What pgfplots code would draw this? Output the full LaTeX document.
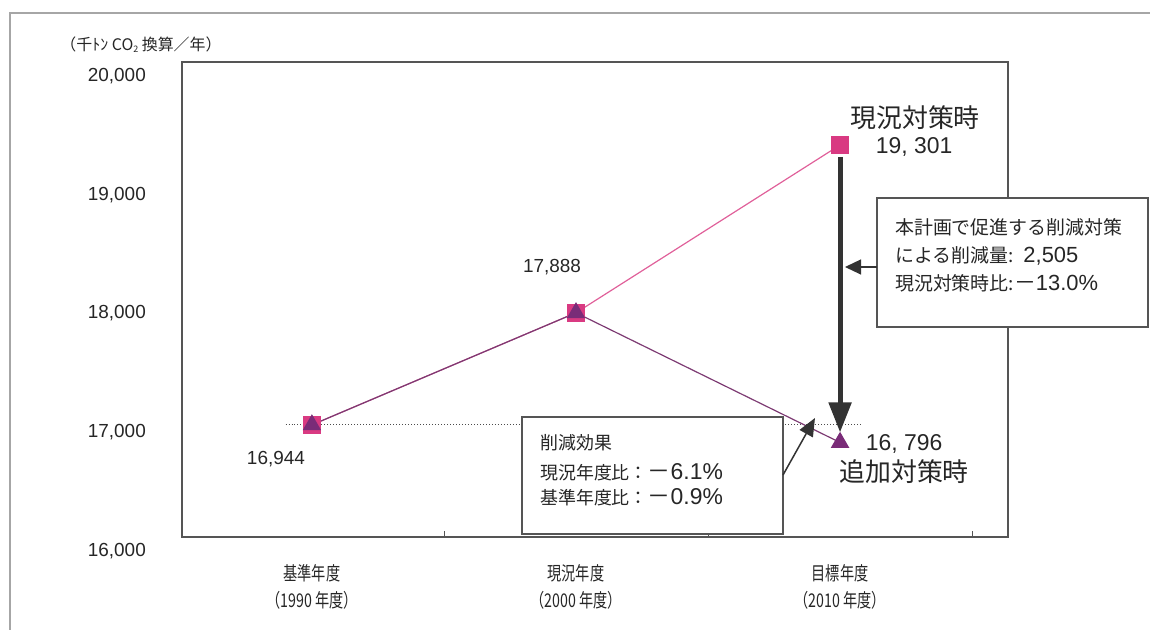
\documentclass[border=0pt]{standalone}
\usepackage{pgfplots}
\pgfplotsset{compat=1.18}
\usetikzlibrary{arrows.meta}
\usepackage{fontspec}
\setmainfont{Liberation Sans}
\newfontfamily\jp{Noto Sans CJK JP}
\newfontfamily\jpc[FakeStretch=0.75]{Noto Sans CJK JP}
\definecolor{pinkline}{HTML}{E0609A}
\definecolor{pinkm}{HTML}{D93A82}
\definecolor{purpline}{HTML}{7D3B73}
\definecolor{purpm}{HTML}{7A2C78}
\definecolor{axgray}{HTML}{555555}
\definecolor{arrowgray}{HTML}{333333}
\newcommand{\fs}[1]{\fontsize{#1}{#1}\selectfont}
\begin{document}
\begin{tikzpicture}[x=1bp,y=1bp]
\path[use as bounding box] (0,0) rectangle (1150,630);
% outer frame
\draw[gray!70, line width=1.5bp] (10,0) -- (10,617) -- (1150,617);
\begin{axis}[
  at={(182bp,93bp)}, anchor=south west,
  width=826bp, height=475bp, scale only axis,
  xmin=-0.492, xmax=2.636, ymin=16000, ymax=20000,
  scaled y ticks=false,
  axis line style={axgray, line width=1.3bp},
  xtick={0,1,2},
  xticklabels={基準年度\\（1990 年度）, 現況年度\\（2000 年度）, 目標年度\\（2010 年度）},
  xticklabel style={font=\jpc\fontsize{19}{27}\selectfont, align=center, inner sep=0pt, yshift=-27bp, text=black!85},
  major x tick style={draw=none},
  minor xtick={0.5,1.5,2.5},
  minor tick length=6bp,
  minor x tick style={axgray, line width=0.8bp},
  tick align=inside,
  xtick pos=bottom, ytick pos=left,
  ytick={16000,17000,18000,19000,20000},
  yticklabels={{16,000},{17,000},{18,000},{19,000},{20,000}},
  yticklabel style={font=\fs{19}, inner sep=0pt, anchor=east, xshift=-36bp, yshift=-14bp, text=black!85},
  ytick style={draw=none},
  clip=false,
]
\draw[dotted, gray!60!black, line width=1bp] (axis cs:-0.1,16944) -- (axis cs:2.08,16944);
\addplot[color=pinkline, line width=1.2bp, mark=square*, mark size=8.5bp,
  mark options={fill=pinkm, draw=pinkm, solid}] coordinates {(0,16944) (1,17888) (2,19301)};
\addplot[color=purpline, line width=1.2bp, mark=triangle*, mark size=9.5bp,
  mark options={fill=purpm, draw=purpm, solid}] coordinates {(0,16944) (1,17888) (2,16796)};
% big arrow
\draw[arrowgray, line width=5bp, -{Triangle[length=30bp,width=22bp]}]
  ([yshift=-12bp]axis cs:2,19301) -- ([yshift=10bp]axis cs:2,16796);
% labels on points
\node[font=\jp\fs{26}, text=black!85] at ([xshift=75bp,yshift=27bp]axis cs:2,19301) {現況対策時};
\node[font=\fs{23}, text=black!85] at ([xshift=74bp,yshift=-2bp]axis cs:2,19301) {19, 301};
\node[font=\fs{23}, text=black!85] at ([xshift=64bp,yshift=-1bp]axis cs:2,16796) {16, 796};
\node[font=\jp\fs{26}, text=black!85] at ([xshift=64bp,yshift=-29bp]axis cs:2,16796) {追加対策時};
\node[font=\fs{19}, text=black!85] at ([xshift=-24bp,yshift=46bp]axis cs:1,17888) {17,888};
\node[font=\fs{19}, text=black!85] at ([xshift=-36bp,yshift=-34bp]axis cs:0,16944) {16,944};
\end{axis}
% unit label
\node[font=\jp\fs{16}, text=black!85] at (141,585) {（千ﾄﾝ CO{\fs{9}\raisebox{-2bp}{2}} 換算／年）};
% box 1
\draw[fill=white, draw=axgray, line width=1.2bp] (877,432) rectangle (1148,303);
\node[anchor=west, font=\jp\fs{19}, text=black!85, inner sep=0pt] at (895,403) {本計画で促進する削減対策};
\node[anchor=west, font=\jp\fs{19}, text=black!85, inner sep=0pt] at (895,374) {による削減量:\hspace{10bp}{\rmfamily\fs{22}2,505}};
\node[anchor=west, font=\jp\fs{19}, text=black!85, inner sep=0pt] at (895,347) {現況対策時比:{\fs{22}－}{\rmfamily\fs{22}13.0\%}};
\draw[arrowgray, line width=1.2bp, -{Triangle[length=16bp,width=15bp]}] (877,363) -- (845,363);
% box 2
\draw[fill=white, draw=axgray, line width=1.2bp] (522,213) rectangle (783,96);
\node[anchor=west, font=\jp\fs{18}, text=black!85, inner sep=0pt] at (540,187) {削減効果};
\node[anchor=west, font=\jp\fs{18}, text=black!85, inner sep=0pt] at (540,158) {現況年度比：{\fs{23}－}{\rmfamily\fs{23}6.1\%}};
\node[anchor=west, font=\jp\fs{18}, text=black!85, inner sep=0pt] at (540,133) {基準年度比：{\fs{23}－}{\rmfamily\fs{23}0.9\%}};
\draw[arrowgray, line width=1.5bp, -{Triangle[length=18bp,width=15bp]}] (783,155) -- (815,212);
\end{tikzpicture}
\end{document}
